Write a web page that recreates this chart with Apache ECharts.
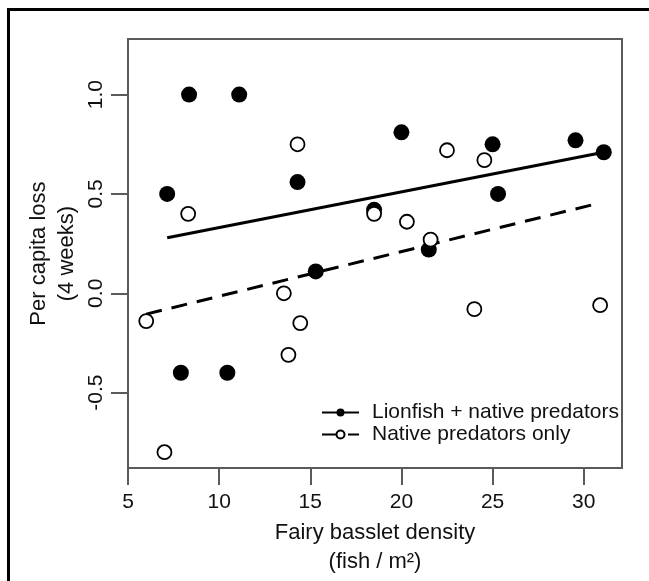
<!DOCTYPE html>
<html>
<head>
<meta charset="utf-8">
<script src="https://cdn.jsdelivr.net/npm/echarts@6/dist/echarts.min.js"></script>
<style>
html,body{margin:0;padding:0;background:#fff;}
#chart{width:649px;height:581px;}
</style>
</head>
<body>
<div id="chart"></div>
<script>
// Lionfish + native predators (filled circles)
var lionX = [8.35, 11.1, 20.0, 25.0, 29.55, 31.1, 14.3, 7.15, 25.3, 18.5, 21.5, 15.3, 7.9, 10.45];
var lionY = [1.0, 1.0, 0.81, 0.75, 0.77, 0.71, 0.56, 0.50, 0.50, 0.42, 0.22, 0.11, -0.40, -0.40];
// Native predators only (open circles)
var nativeX = [14.3, 22.5, 24.55, 8.3, 18.5, 20.3, 21.6, 13.55, 24.0, 30.9, 6.0, 14.45, 13.8, 7.0];
var nativeY = [0.75, 0.72, 0.67, 0.40, 0.40, 0.36, 0.27, 0.0, -0.08, -0.06, -0.14, -0.15, -0.31, -0.80];
// Fitted regression lines (end points)
var lionFitX = [7.15, 31.1];
var lionFitY = [0.28, 0.71];
var nativeFitX = [6.0, 30.9];
var nativeFitY = [-0.105, 0.455];
// Axis ticks
var xTicks = [5, 10, 15, 20, 25, 30];
var yTicks = [-0.5, 0.0, 0.5, 1.0];
var seriesNames = ['Lionfish + native predators', 'Native predators only'];
var xTitle = 'Fairy basslet density\n(fish / m\u00B2)';
var yTitle = 'Per capita loss\n(4 weeks)';

function zip(xs, ys) { return xs.map(function (x, i) { return [x, ys[i]]; }); }

var FONT = '"Liberation Sans", Arial, Helvetica, sans-serif';
var AX = '#5a5a5a';
var chart = echarts.init(document.getElementById('chart'), null, {renderer: 'canvas'});
chart.setOption({
  animation: false,
  backgroundColor: '#fff',
  textStyle: {fontFamily: FONT},
  graphic: [{
    type: 'rect', left: 6, top: 7,
    shape: {width: 800, height: 800},
    style: {fill: null, stroke: '#000', lineWidth: 3},
    silent: true, z: -1
  }],
  grid: {left: 128, right: 27, top: 39, bottom: 109, show: true, borderColor: AX, borderWidth: 2, backgroundColor: 'transparent'},
  legend: {
    orient: 'vertical', left: 316, top: 397,
    itemWidth: 37, itemHeight: 10, itemGap: 1,
    data: seriesNames,
    lineStyle: {width: 2},
    textStyle: {fontFamily: FONT, fontSize: 21, color: '#111', padding: [0, 0, 0, 8]}
  },
  xAxis: {
    type: 'value', min: 5, max: 32.1,
    splitLine: {show: false},
    axisLine: {show: false, onZero: false},
    axisTick: {show: true, customValues: xTicks, length: 17, lineStyle: {color: AX, width: 2}},
    axisLabel: {customValues: xTicks, fontSize: 21, color: '#111', margin: 24, fontFamily: FONT},
    name: xTitle, nameLocation: 'middle', nameGap: 45,
    nameTextStyle: {fontSize: 22, color: '#111', lineHeight: 29, fontFamily: FONT, align: 'center'}
  },
  yAxis: {
    type: 'value', min: -0.88, max: 1.28,
    splitLine: {show: false},
    axisLine: {show: false, onZero: false},
    axisTick: {show: true, customValues: yTicks, length: 17, lineStyle: {color: AX, width: 2}},
    axisLabel: {customValues: yTicks, rotate: 90, fontSize: 21, color: '#111', margin: 21, fontFamily: FONT,
      formatter: function (v) { return (+v).toFixed(1); }},
    name: yTitle, nameLocation: 'middle', nameGap: 47, nameMoveOverlap: false,
    nameTextStyle: {fontSize: 22, color: '#111', lineHeight: 28, fontFamily: FONT, align: 'center'}
  },
  series: [
    {
      name: seriesNames[0], type: 'line', data: zip(lionFitX, lionFitY),
      showSymbol: false, symbol: 'circle', symbolSize: 8,
      itemStyle: {color: '#000'},
      lineStyle: {color: '#000', width: 3, type: 'solid'}, z: 2, silent: true
    },
    {
      name: seriesNames[1], type: 'line', data: zip(nativeFitX, nativeFitY),
      showSymbol: false, symbol: 'circle', symbolSize: 8,
      itemStyle: {color: '#fff', borderColor: '#000', borderWidth: 1.5},
      lineStyle: {color: '#000', width: 3, type: [16, 10]}, z: 2, silent: true
    },
    {
      name: 'lionPts', type: 'scatter', data: zip(lionX, lionY),
      symbol: 'circle', symbolSize: 16,
      itemStyle: {color: '#000', opacity: 1}, z: 3
    },
    {
      name: 'nativePts', type: 'scatter', data: zip(nativeX, nativeY),
      symbol: 'circle', symbolSize: 14,
      itemStyle: {color: '#fff', borderColor: '#000', borderWidth: 1.8, opacity: 1}, z: 4
    }
  ]
});
</script>
</body>
</html>
